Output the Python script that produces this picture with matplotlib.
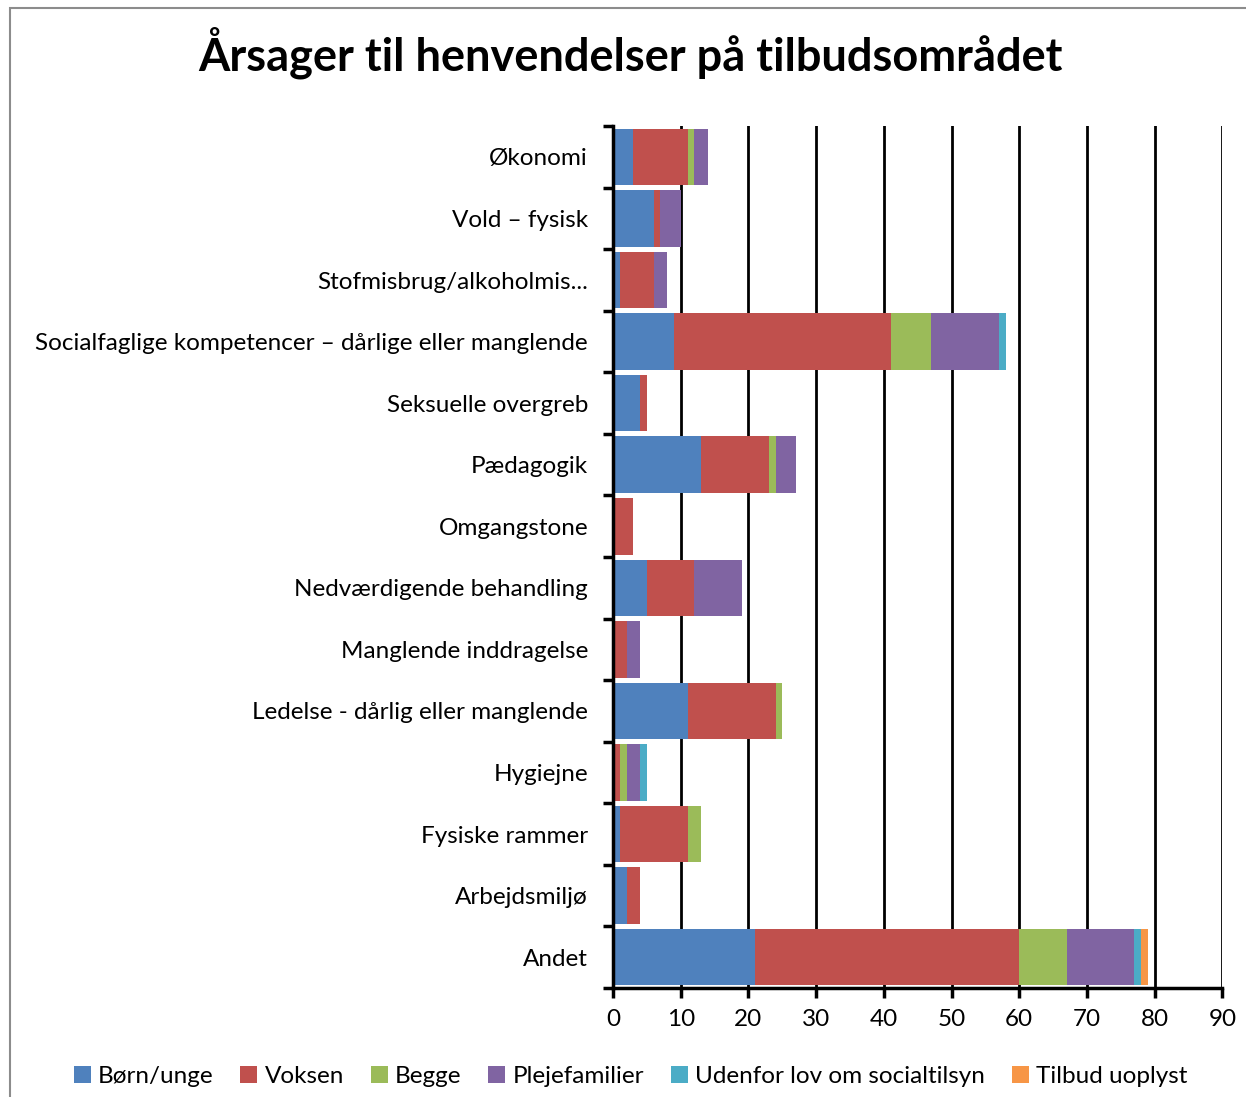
import matplotlib.pyplot as plt
from matplotlib.patches import Rectangle
import numpy as np

categories = ['Økonomi', 'Vold – fysisk', 'Stofmisbrug/alkoholmis...',
              'Socialfaglige kompetencer – dårlige eller manglende',
              'Seksuelle overgreb', 'Pædagogik', 'Omgangstone',
              'Nedværdigende behandling', 'Manglende inddragelse',
              'Ledelse - dårlig eller manglende', 'Hygiejne',
              'Fysiske rammer', 'Arbejdsmiljø', 'Andet']

series_names = ['Børn/unge', 'Voksen', 'Begge', 'Plejefamilier',
                'Udenfor lov om socialtilsyn', 'Tilbud uoplyst']

born_unge = [3, 6, 1, 9, 4, 13, 0, 5, 0, 11, 0, 1, 2, 21]
voksen = [8, 1, 5, 32, 1, 10, 3, 7, 2, 13, 1, 10, 2, 39]
begge = [1, 0, 0, 6, 0, 1, 0, 0, 0, 1, 1, 2, 0, 7]
plejefamilier = [2, 3, 2, 10, 0, 3, 0, 7, 2, 0, 2, 0, 0, 10]
udenfor = [0, 0, 0, 1, 0, 0, 0, 0, 0, 0, 1, 0, 0, 1]
uoplyst = [0, 0, 0, 0, 0, 0, 0, 0, 0, 0, 0, 0, 0, 1]

colors = ['#4F81BD', '#C0504D', '#9BBB59', '#8064A2', '#4BACC6', '#F79646']

plt.rcParams['font.family'] = ['Lato', 'DejaVu Sans']

fig = plt.figure(figsize=(12.46, 10.97), dpi=100)
ax = fig.add_axes([0.492, 0.0994, 0.489, 0.7856])

# chart border
fig.patches.append(Rectangle((0.008, -0.01), 1.0, 1.003, transform=fig.transFigure,
                             fill=False, edgecolor='#8c8c8c', linewidth=1.5))

y = np.arange(len(categories))
left = np.zeros(len(categories))
for name, vals, c in zip(series_names,
                         [born_unge, voksen, begge, plejefamilier, udenfor, uoplyst],
                         colors):
    ax.barh(y, vals, left=left, height=0.92, color=c, label=name, zorder=3)
    left += np.array(vals)

ax.set_ylim(len(categories) - 0.5, -0.5)
ax.set_xlim(0, 90)
ax.set_xticks(range(0, 91, 10))
ax.set_yticks(y)
ax.set_yticklabels(categories, fontsize=17.5)
ax.set_yticks(np.arange(-0.5, len(categories), 1), minor=True)
ax.tick_params(axis='y', which='major', length=0, pad=18)
ax.tick_params(axis='y', which='minor', length=7, width=2.5, direction='out')
ax.tick_params(axis='x', labelsize=17.5, length=7, width=2.5, direction='out', pad=8)

ax.grid(axis='x', color='black', linewidth=2, zorder=0)
for s in ['top', 'right']:
    ax.spines[s].set_visible(False)
ax.spines['left'].set_linewidth(2.5)
ax.spines['bottom'].set_linewidth(2.5)
ax.spines['left'].set_zorder(4)

fig.text(0.506, 0.952, 'Årsager til henvendelser på tilbudsområdet',
         ha='center', va='center', fontsize=32.5, fontweight='bold')

fig.legend(loc='center', bbox_to_anchor=(0.506, 0.019), ncol=6, frameon=False,
           fontsize=17.5, handlelength=0.7, handleheight=0.7, handletextpad=0.3,
           columnspacing=1.1)

fig.savefig('out.png', dpi=100)
